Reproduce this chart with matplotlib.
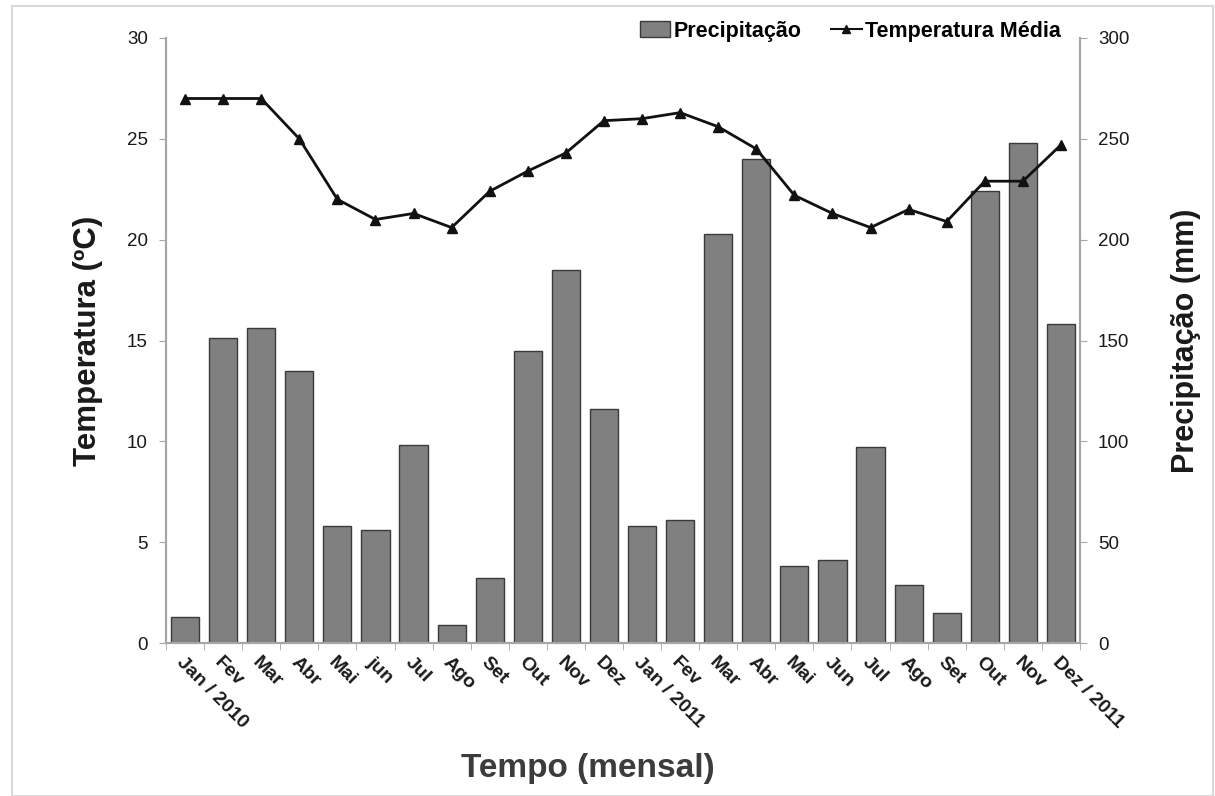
import matplotlib
matplotlib.use("Agg")
import matplotlib.pyplot as plt
import numpy as np
from matplotlib.patches import Rectangle, Patch
from matplotlib.lines import Line2D

plt.rcParams['font.family'] = ['Liberation Sans', 'DejaVu Sans']

months = ['Jan / 2010', 'Fev', 'Mar', 'Abr', 'Mai', 'jun', 'Jul', 'Ago', 'Set', 'Out', 'Nov', 'Dez',
          'Jan / 2011', 'Fev', 'Mar', 'Abr', 'Mai', 'Jun', 'Jul', 'Ago', 'Set', 'Out', 'Nov', 'Dez / 2011']
precip = [13, 151, 156, 135, 58, 56, 98, 9, 32, 145, 185, 116,
          58, 61, 203, 240, 38, 41, 97, 29, 15, 224, 248, 158]
temp = [27.0, 27.0, 27.0, 25.0, 22.0, 21.0, 21.3, 20.6, 22.4, 23.4, 24.3, 25.9,
        26.0, 26.3, 25.6, 24.5, 22.2, 21.3, 20.6, 21.5, 20.9, 22.9, 22.9, 24.7]

axis_gray = '#a6a6a6'
txt = '#1a1a1a'

fig = plt.figure(figsize=(12.15, 7.96), dpi=100)
fig.patches.append(Rectangle((12 / 1215, 0), (1213 - 12) / 1215, 1 - 6 / 796,
                             transform=fig.transFigure, fill=False,
                             edgecolor='#d9d9d9', linewidth=1.5))

ax = fig.add_axes([166 / 1215, 1 - 643 / 796, (1080 - 166) / 1215, (643 - 38) / 796])
ax2 = ax.twinx()

x = np.arange(len(months))
ax2.bar(x, precip, width=0.74, color='#808080', edgecolor='#3a3a3a', linewidth=1.0, zorder=2)
ax2.set_ylim(0, 300)
ax2.set_yticks(np.arange(0, 301, 50))

ax.plot(x, temp, color='#111111', linewidth=2, marker='^', markersize=7, zorder=5)
ax.set_ylim(0, 30)
ax.set_yticks(np.arange(0, 31, 5))
ax.set_zorder(ax2.get_zorder() + 1)
ax.patch.set_visible(False)

ax.set_xlim(-0.5, len(months) - 0.5)
ax.set_xticks(x)
ax.set_xticks(np.arange(-0.5, len(months)), minor=True)
ax.set_xticklabels(months, rotation=-45, ha='left', va='top', rotation_mode='anchor',
                   fontsize=14, fontweight='bold', color=txt)
ax.tick_params(axis='x', which='major', length=0, pad=8)
ax.tick_params(axis='x', which='minor', length=5, color=axis_gray, direction='out')

for a in (ax, ax2):
    a.spines['top'].set_visible(False)
    for s in ('left', 'right', 'bottom'):
        a.spines[s].set_color(axis_gray)
        a.spines[s].set_linewidth(1.5)
ax.tick_params(axis='y', length=5, color=axis_gray, labelsize=13.5, labelcolor=txt, pad=8)
ax2.tick_params(axis='y', length=5, color=axis_gray, labelsize=13.5, labelcolor=txt, pad=8)

ax.set_ylabel('Temperatura (ºC)', fontsize=22.5, fontweight='bold', color=txt, labelpad=17)
ax2.set_ylabel('Precipitação (mm)', fontsize=22, fontweight='bold', color=txt, labelpad=30)
fig.text(588 / 1215, 1 - 768 / 796, 'Tempo (mensal)', ha='center', va='center',
         fontsize=24, fontweight='bold', color='#3c3c3c')

handles = [Patch(facecolor='#808080', edgecolor='#3a3a3a'),
           Line2D([0], [0], color='#111111', linewidth=1.5, marker='^', markersize=6)]
fig.legend(handles, ['Precipitação', 'Temperatura Média'], ncol=2, frameon=False,
           loc='center right', bbox_to_anchor=(1080 / 1215, 1 - 31 / 796),
           prop={'weight': 'bold', 'size': 15.5}, handlelength=1.4, handletextpad=0.15,
           columnspacing=1.4)

fig.savefig('out.png', dpi=100)
